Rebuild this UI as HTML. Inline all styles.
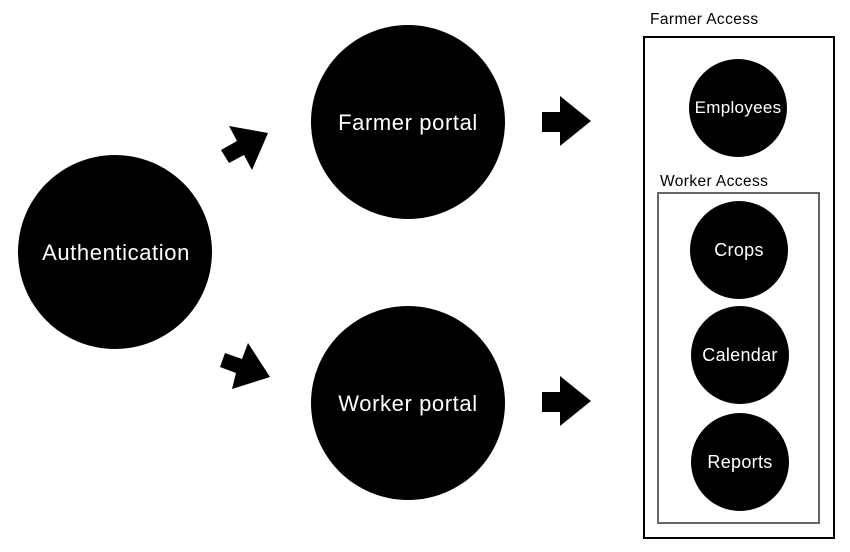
<!DOCTYPE html>
<html><head><style>
body{margin:0;background:#fff;}
</style></head><body>
<svg width="850" height="552" viewBox="0 0 850 552" xmlns="http://www.w3.org/2000/svg" style="display:block">
<g font-family="'Liberation Sans', sans-serif" fill="#fff" text-anchor="middle">
<circle cx="115" cy="252" r="97" fill="#000"/>
<text x="116" y="260" font-size="22" letter-spacing="0.6">Authentication</text>
<circle cx="408" cy="122" r="97" fill="#000"/>
<text x="408" y="130" font-size="22" letter-spacing="0.6">Farmer portal</text>
<circle cx="408" cy="403" r="97" fill="#000"/>
<text x="408" y="411" font-size="22" letter-spacing="0.6">Worker portal</text>
<circle cx="738" cy="108" r="49" fill="#000"/>
<text x="738" y="113" font-size="17" letter-spacing="0.3">Employees</text>
<circle cx="739" cy="250" r="49" fill="#000"/>
<text x="739" y="256" font-size="18" letter-spacing="0.3">Crops</text>
<circle cx="740" cy="355" r="49" fill="#000"/>
<text x="740" y="361" font-size="18" letter-spacing="0.3">Calendar</text>
<circle cx="740" cy="462" r="49" fill="#000"/>
<text x="740" y="468" font-size="18" letter-spacing="0.3">Reports</text>
</g>
<rect x="644" y="37" width="190" height="501" fill="none" stroke="#000" stroke-width="2"/>
<rect x="658" y="193" width="161" height="330" fill="none" stroke="#666" stroke-width="2"/>
<g font-family="'Liberation Sans', sans-serif" font-size="15.5" fill="#000" letter-spacing="0.4">
<text x="650" y="24">Farmer Access</text>
<text x="660" y="186">Worker Access</text>
</g>
<polygon points="542,112 560,112 560,96 591,121 560,146 560,132 542,132" fill="#000"/>
<polygon points="542,392 560,392 560,376 591,401 560,426 560,412 542,412" fill="#000"/>
<polygon points="221,150 237,141 229,126 268,133 252,170 244,155 229,163" fill="#000"/>
<polygon points="225,353 242,359 248,343 270,377 232,389 236,373 220,367" fill="#000"/>
</svg>
</body></html>
